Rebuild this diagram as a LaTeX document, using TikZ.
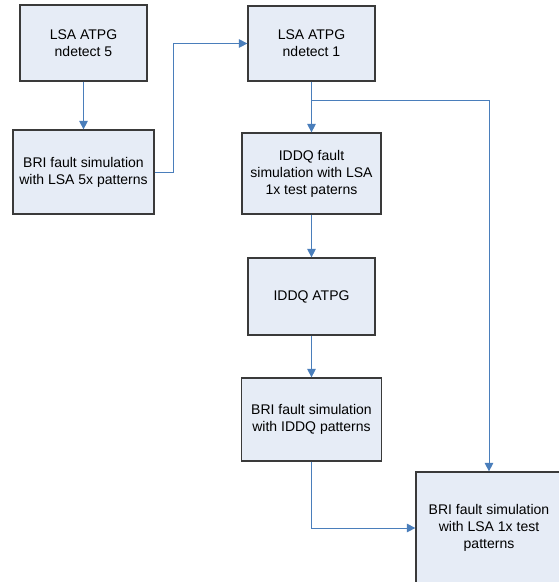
\documentclass[tikz,border=0pt]{standalone}
\usepackage{fontspec}
\setmainfont{Liberation Sans}
\usetikzlibrary{arrows.meta}
\definecolor{boxfill}{HTML}{E6ECF6}
\definecolor{boxline}{HTML}{3A3A3A}
\definecolor{flow}{HTML}{4A7EBB}
\tikzset{
  stepbox/.style={draw=boxline, line width=1.2pt, fill=boxfill, rectangle,
    inner sep=0pt, align=center, font=\fontsize{14}{17}\selectfont},
  flowline/.style={draw=flow, line width=0.9pt},
  flowarrow/.style={flowline, -{Triangle[length=8.5pt,width=8.5pt]}}
}
\begin{document}
\begin{tikzpicture}[x=1pt, y=-1pt]
  \useasboundingbox (0,0) rectangle (559,582);
  \clip (0,0) rectangle (559,582);
  \fill[white] (0,0) rectangle (559,582);

  % process steps
  \node[stepbox, minimum width=127pt, minimum height=76pt] (A) at (83.5,43)
    {LSA ATPG\\ndetect 5};
  \node[stepbox, minimum width=141pt, minimum height=84pt] (B) at (83.5,172)
    {BRI fault simulation\\with LSA 5x patterns};
  \node[stepbox, minimum width=127pt, minimum height=75pt] (C) at (311.5,43.5)
    {LSA ATPG\\ndetect 1};
  \node[stepbox, minimum width=139pt, minimum height=81pt] (D) at (311.5,173.5)
    {IDDQ fault\\simulation with LSA\\1x test paterns};
  \node[stepbox, minimum width=127pt, minimum height=77pt] (E) at (311.5,296.5)
    {IDDQ ATPG};
  \node[stepbox, minimum width=140pt, minimum height=83pt] (F) at (311.5,419.5)
    {BRI fault simulation\\with IDDQ patterns};
  \node[stepbox, minimum width=146pt, minimum height=112pt] (G) at (489,528)
    {BRI fault simulation\\with LSA 1x test\\patterns};

  % branch point below the ndetect 1 step
  \coordinate (br) at (311.5,100);

  % flow connectors
  \draw[flowarrow] (A.south) -- (B.north);
  \draw[flowarrow] (B.east) -- ++(19,0) |- (C.west);
  \draw[flowarrow] (C.south) -- (D.north);
  \draw[flowarrow] (br) -| (G.north);
  \draw[flowarrow] (D.south) -- (E.north);
  \draw[flowarrow] (E.south) -- (F.north);
  \draw[flowarrow] (F.south) |- (G.west);
\end{tikzpicture}
\end{document}
